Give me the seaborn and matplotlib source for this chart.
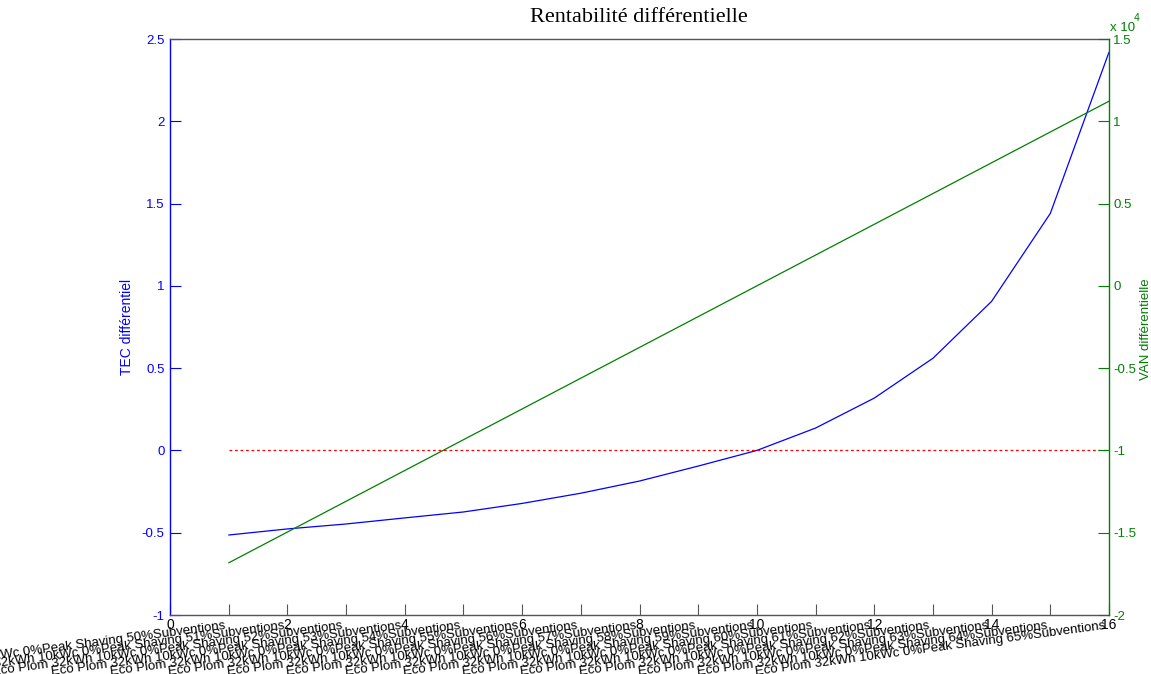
import matplotlib
matplotlib.use("Agg")
import matplotlib.pyplot as plt
from matplotlib.transforms import blended_transform_factory, offset_copy
import pandas as pd
import seaborn as sns

# Scenario data: subsidy level for each differential step
subsidy_pct = [50, 51, 52, 53, 54, 55, 56, 57, 58, 59, 60, 61, 62, 63, 64, 65]
scenario_labels = [f"Eco Plom 32kWh 10kWc 0%Peak Shaving {p}%Subventions" for p in subsidy_pct]
positions = list(range(1, 17))

# Differential TEC (left axis) and differential NPV (right axis)
tec_diff = [-0.514, -0.477, -0.447, -0.410, -0.374, -0.322, -0.260, -0.186,
            -0.095, 0.000, 0.136, 0.318, 0.560, 0.906, 1.440, 2.420]
van_diff = [-16830, -14960, -13090, -11220, -9350, -7480, -5610, -3740,
            -1870, 0, 1870, 3740, 5610, 7480, 9350, 11220]
zero_ref = [0.0] * 16

x_ticks = list(range(0, 17))
x_tick_text = [str(t) if t % 2 == 0 else "" for t in x_ticks]
left_ticks = [-1, -0.5, 0, 0.5, 1, 1.5, 2, 2.5]
left_tick_text = ["-1", "-0.5", "0", "0.5", "1", "1.5", "2", "2.5"]
right_ticks = [-20000, -15000, -10000, -5000, 0, 5000, 10000, 15000]
right_tick_text = ["-2", "-1.5", "-1", "-0.5", "0", "0.5", "1", "1.5"]

BLUE = "#0000ff"
GREEN = "#008000"

sns.set_theme(style="white")
plt.rcParams["font.family"] = ["Liberation Sans", "DejaVu Sans"]
plt.rcParams["axes.unicode_minus"] = False

df = pd.DataFrame({"pos": positions, "tec": tec_diff, "van": van_diff, "zero": zero_ref})

fig = plt.figure(figsize=(11.51, 6.74), dpi=100)
ax = fig.add_axes([170 / 1151, 59 / 674, 939 / 1151, 576 / 674])
ax2 = ax.twinx()

sns.lineplot(data=df, x="pos", y="tec", ax=ax, color=BLUE, lw=0.9)
sns.lineplot(data=df, x="pos", y="zero", ax=ax, color="red", lw=0.9, linestyle=(0, (2.2, 2.2)))
sns.lineplot(data=df, x="pos", y="van", ax=ax2, color=GREEN, lw=0.9)

ax.set_xlim(0, 16)
ax.set_ylim(-1, 2.5)
ax2.set_ylim(-20000, 15000)

ax.set_xlabel("")
ax.set_ylabel("")
ax2.set_ylabel("")

ax.set_xticks(x_ticks)
ax.set_xticklabels(x_tick_text)
ax.set_yticks(left_ticks)
ax.set_yticklabels(left_tick_text)
ax2.set_yticks(right_ticks)
ax2.set_yticklabels(right_tick_text)

ax.tick_params(axis="x", direction="in", length=8, width=0.8, color="#555555",
               labelsize=10, labelcolor="black", pad=2, bottom=True)
ax.tick_params(axis="y", direction="in", length=8, width=0.8, color=BLUE,
               labelcolor=BLUE, labelsize=9.5, pad=4, left=True)
ax2.tick_params(axis="y", direction="in", length=8, width=0.8, color=GREEN,
                labelcolor=GREEN, labelsize=9.5, pad=3, right=True)

for name, sp in ax.spines.items():
    sp.set_linewidth(1.0)
    sp.set_color("#555555")
ax.spines["left"].set_color(BLUE)
ax.spines["right"].set_visible(False)
for name in ("top", "bottom", "left"):
    ax2.spines[name].set_visible(False)
ax2.spines["right"].set_color(GREEN)
ax2.spines["right"].set_linewidth(1.0)
ax.grid(False)
ax2.grid(False)

# Rotated scenario names under each step
trans = blended_transform_factory(ax.transData, ax.transAxes)
trans = offset_copy(trans, fig=fig, x=-4, y=-5, units="dots")
for p, lab in zip(positions, scenario_labels):
    ax.text(p, 0, lab, transform=trans, ha="right", va="top", rotation=7.5,
            rotation_mode="anchor", fontsize=9.5, color="black", clip_on=False)

fig.text(639 / 1151, 1 - 18 / 674, "Rentabilité différentielle",
         family=["Liberation Serif", "DejaVu Serif"], fontsize=16,
         ha="center", va="center", color="black")
fig.text(127 / 1151, 1 - 327 / 674, "TEC différentiel", rotation=90,
         ha="center", va="center", color=BLUE, fontsize=10)
fig.text(1146 / 1151, 1 - 329 / 674, "VAN différentielle", rotation=90,
         ha="center", va="center", color=GREEN, fontsize=9.5)
fig.text(1110 / 1151, 1 - 31 / 674, "x 10", ha="left", va="baseline",
         color=GREEN, fontsize=9.5)
fig.text(1134 / 1151, 1 - 21 / 674, "4", ha="left", va="baseline",
         color=GREEN, fontsize=7.5)

fig.savefig("out.png", dpi=100, facecolor="white")
